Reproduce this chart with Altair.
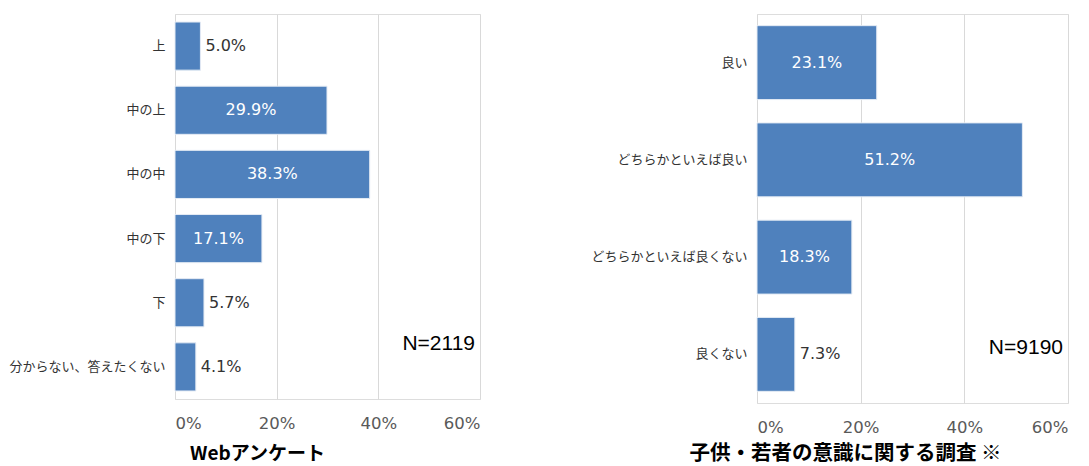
import altair as alt
import pandas as pd

web_categories = ["上", "中の上", "中の中", "中の下", "下", "分からない、答えたくない"]
web_values = [5.0, 29.9, 38.3, 17.1, 5.7, 4.1]
web_n = "N=2119"
web_title = "Webアンケート"

survey_categories = ["良い", "どちらかといえば良い", "どちらかといえば良くない", "良くない"]
survey_values = [23.1, 51.2, 18.3, 7.3]
survey_n = "N=9190"
survey_title = "子供・若者の意識に関する調査 ※"

tick_values = [0, 0.2, 0.4, 0.6]

BAR = "#4f81bd"
JP = "Noto Sans CJK JP"
NUM = "DejaVu Sans"


def panel(cats, vals, n_text, title, width, height, title_x, title_y, title_size,
          pad_inner, pad_outer):
    df = pd.DataFrame({
        "cat": cats,
        "v": [x / 100 for x in vals],
        "label": [f"{x:.1f}%" for x in vals],
    })
    base = alt.Chart(df)
    yscale = alt.Scale(paddingInner=pad_inner, paddingOuter=pad_outer)
    y_axis = alt.Axis(title=None, ticks=False, domain=False, labelPadding=10,
                      labelFontSize=13, labelColor="#333333", labelFont=JP,
                      labelLimit=300)
    xscale = alt.Scale(domain=[0, 0.6], nice=False)
    x_axis = alt.Axis(values=tick_values, format=".0%", grid=True,
                      gridColor="#d9d9d9", gridWidth=1, domain=False, ticks=False,
                      labelPadding=16, labelFontSize=16.5, labelColor="#595959",
                      labelFont=NUM, title=title, titleX=title_x, titleY=title_y,
                      titleAlign="center", titleBaseline="middle",
                      titleFontSize=title_size, titleFontWeight="bold",
                      titleColor="#000000", titleFont=JP)
    bars = base.mark_bar(color=BAR, stroke="#e4ebf4", strokeWidth=1).encode(
        x=alt.X("v:Q", scale=xscale, axis=x_axis),
        y=alt.Y("cat:N", sort=cats, scale=yscale, axis=y_axis),
    )
    inside = base.transform_filter("datum.v >= 0.1").transform_calculate(
        mid="datum.v / 2"
    ).mark_text(color="white", fontSize=16, font=NUM).encode(
        x=alt.X("mid:Q"),
        y=alt.Y("cat:N", sort=cats),
        text="label:N",
    )
    outside = base.transform_filter("datum.v < 0.1").mark_text(
        color="#333333", fontSize=16, font=NUM, align="left", dx=5
    ).encode(
        x=alt.X("v:Q"),
        y=alt.Y("cat:N", sort=cats),
        text="label:N",
    )
    ntext = alt.Chart(pd.DataFrame({"t": [n_text]})).mark_text(
        align="right", baseline="middle", fontSize=21, font="Liberation Sans",
        color="#000000"
    ).encode(
        text="t:N",
        x=alt.value(width - 5),
        y=alt.value(height - 55),
    )
    return alt.layer(bars, inside, outside, ntext).properties(width=width, height=height)


left = panel(web_categories, web_values, web_n, web_title, 305, 385,
             82, 54, 19, 0.25, 0.125)
right = panel(survey_categories, survey_values, survey_n, survey_title, 311, 389,
              88, 50, 20.5, 0.24, 0.12)

chart = alt.hconcat(left, right, spacing=277, bounds="flush").configure_view(
    strokeWidth=0
).configure(background="white").properties(
    padding={"left": 0, "top": 5, "right": 5, "bottom": 5}
)

chart.save("out.html", embed_options={"renderer": "svg", "actions": False})
